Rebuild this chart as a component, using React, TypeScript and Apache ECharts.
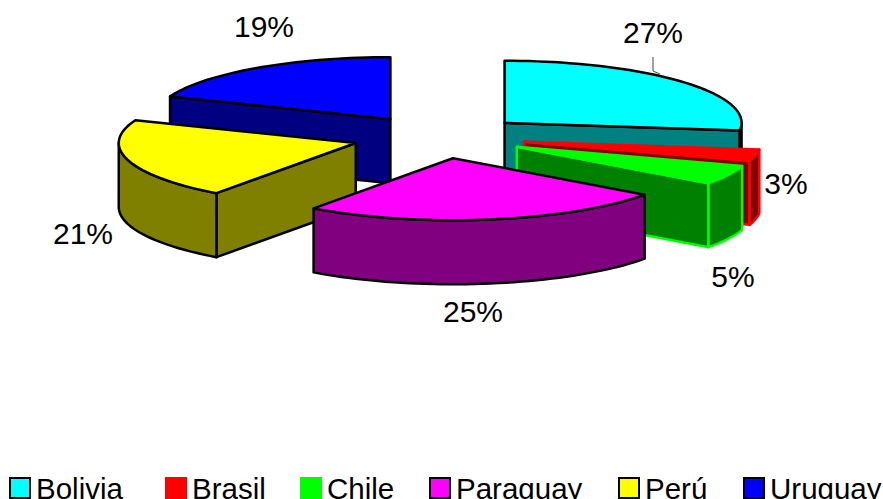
import React, { useEffect, useRef } from "react";
import * as echarts from "echarts";

// Share of each country, in percent, clockwise from twelve o'clock.
const countries = ["Bolivia", "Brasil", "Chile", "Paraguay", "Perú", "Uruguay"];
const shares = [27, 3, 5, 25, 21, 19];

const topColors = ["#00FFFF", "#FF0000", "#00FF00", "#FF00FF", "#FFFF00", "#0000FF"];
const sideColors = ["#008080", "#800000", "#008000", "#800080", "#808000", "#000080"];
const outlineColors = ["#000000", "#FF0000", "#00FF00", "#000000", "#000000", "#000000"];
const legendBorders = ["#000000", "#FF0000", "#00FF00", "#000000", "#000000", "#000000"];

// Painter's order: rear slices first.
const paintOrder = [5, 0, 1, 2, 4, 3];

const labelCentres = [
  [653, 32],
  [786, 183],
  [733, 276],
  [473, 311],
  [83, 233],
  [264, 26],
];
const legendLefts = [9, 165, 300, 429, 618, 743];

const CENTRE_X = 439.3;
const CENTRE_Y = 137;
const RADIUS_X = 237;
const RADIUS_Y = 62;
const EXPLODE_X = 87;
const EXPLODE_Y = 21.5;
const DEPTH = 64;
const FONT = '30px "Liberation Sans", Arial, sans-serif';

const toRad = (deg: number) => (deg * Math.PI) / 180;

function arcPoints(ax: number, ay: number, from: number, to: number, dy = 0) {
  const steps = Math.max(2, Math.ceil((to - from) / 2));
  const pts: number[][] = [];
  for (let i = 0; i <= steps; i++) {
    const a = toRad(from + ((to - from) * i) / steps);
    pts.push([ax + RADIUS_X * Math.sin(a), ay - RADIUS_Y * Math.cos(a) + dy]);
  }
  return pts;
}

function sliceRenderer(index: number) {
  const before = shares.slice(0, index).reduce((s, v) => s + v, 0);
  const total = shares.reduce((s, v) => s + v, 0);
  return (_params: unknown, api: any) => {
    const value = api.value(0) as number;
    const start = (before / total) * 360;
    const end = ((before + value) / total) * 360;
    const mid = toRad((start + end) / 2);
    const ax = CENTRE_X + EXPLODE_X * Math.sin(mid);
    const ay = CENTRE_Y - EXPLODE_Y * Math.cos(mid);
    const stroke = outlineColors[index];
    const face = (points: number[][], fill: string) => ({
      type: "polygon",
      shape: { points },
      style: { fill, stroke, lineWidth: 2.5, lineJoin: "round" },
    });
    const children: any[] = [];
    const rim = arcPoints(ax, ay, start, end);

    // A radial cut shows only when its outer end lies on the near side of the apex.
    const cut = (p: number[]) => [
      [ax, ay],
      p,
      [p[0], p[1] + DEPTH],
      [ax, ay + DEPTH],
    ];
    if (Math.sin(toRad(start)) < -1e-6) children.push(face(cut(rim[0]), sideColors[index]));
    if (Math.sin(toRad(end)) > 1e-6) children.push(face(cut(rim[rim.length - 1]), sideColors[index]));

    // Outer wall, front half of the ellipse only.
    const wallFrom = Math.max(start, 90);
    const wallTo = Math.min(end, 270);
    if (wallTo > wallFrom) {
      const upper = arcPoints(ax, ay, wallFrom, wallTo);
      const lower = arcPoints(ax, ay, wallFrom, wallTo, DEPTH).reverse();
      children.push(face([...upper, ...lower], sideColors[index]));
    }

    children.push(face([[ax, ay], ...rim], topColors[index]));

    const [lx, ly] = labelCentres[index];
    if (index === 0) {
      children.push({
        type: "polyline",
        shape: { points: [[653, 57], [653, 71], [660, 74]] },
        style: { fill: "none", stroke: "#444444", lineWidth: 1 },
      });
    }
    children.push({
      type: "text",
      style: {
        x: lx,
        y: ly,
        text: `${value}%`,
        font: FONT,
        fill: "#000000",
        align: "center",
        verticalAlign: "middle",
      },
    });
    return { type: "group", children };
  };
}

export default function App() {
  const ref = useRef<HTMLDivElement>(null);
  useEffect(() => {
    const chart = echarts.init(ref.current!, null, { renderer: "svg" });
    chart.setOption({
      animation: false,
      backgroundColor: "#FFFFFF",
      legend: countries.map((name, i) => ({
        left: legendLefts[i],
        top: 473,
        padding: 0,
        itemWidth: 20,
        itemHeight: 20,
        itemGap: 0,
        selectedMode: false,
        textStyle: {
          fontFamily: '"Liberation Sans", Arial, sans-serif',
          fontSize: 29.5,
          color: "#000000",
          padding: [0, 0, 3, 1],
        },
        data: [
          {
            name,
            icon: "rect",
            itemStyle: { color: topColors[i], borderColor: legendBorders[i], borderWidth: 2 },
          },
        ],
      })),
      series: paintOrder.map((i, order) => ({
        type: "custom",
        name: countries[i],
        coordinateSystem: "none",
        silent: true,
        z: 2 + order,
        itemStyle: { color: topColors[i] },
        data: [[shares[i]]],
        renderItem: sliceRenderer(i),
      })),
    });
    return () => chart.dispose();
  }, []);
  return <div ref={ref} style={{ position: "absolute", left: 0, top: 0, width: 883, height: 499 }} />;
}
